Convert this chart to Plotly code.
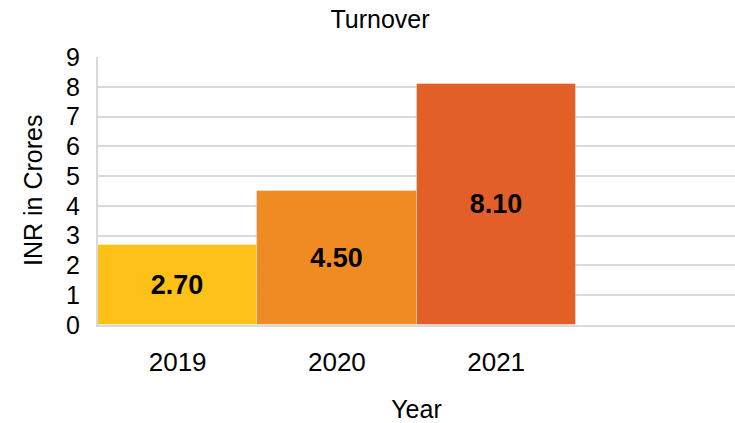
import plotly.graph_objects as go

years = ["2019", "2020", "2021"]
turnover = [2.70, 4.50, 8.10]
bar_colors = ["#FDC117", "#F08B23", "#E26027"]
y_ticks = list(range(0, 10))

font_family = "Arial, Liberation Sans, sans-serif"

fig = go.Figure()
fig.add_trace(go.Bar(
    x=list(range(len(years))),
    y=turnover,
    marker=dict(color=bar_colors, line=dict(color="rgba(255,255,255,0.35)", width=1)),
    text=[f"{v:.2f}" for v in turnover],
    textposition="inside",
    insidetextanchor="middle",
    textangle=0,
    textfont=dict(family=font_family, size=27, color="black", weight="bold"),
    showlegend=False,
    hoverinfo="skip",
))

fig.update_layout(
    width=735, height=423,
    margin=dict(l=98, r=0, t=57, b=98),
    paper_bgcolor="white", plot_bgcolor="white",
    bargap=0,
    title=dict(text="Turnover", x=380 / 735, xanchor="center", xref="container",
               y=1 - 19 / 423, yref="container", yanchor="middle",
               font=dict(family=font_family, size=25, color="#000")),
    font=dict(family=font_family, color="#000"),
    annotations=[dict(
        text="INR in Crores", textangle=-90, showarrow=False,
        xref="paper", x=0, xanchor="center", xshift=33 - 98,
        yref="paper", y=0.5, yanchor="middle",
        font=dict(family=font_family, size=25, color="#000"),
    )],
)
fig.update_xaxes(
    range=[-0.5, 3.5],
    tickvals=list(range(len(years))), ticktext=years,
    tickfont=dict(size=26, color="#000"),
    ticks="outside", ticklen=13, tickcolor="rgba(0,0,0,0)",
    showgrid=False, zeroline=False,
    showline=True, linecolor="#D9D9D9", linewidth=2,
    title=dict(text="Year", font=dict(size=25, color="#000"), standoff=26),
)
fig.update_yaxes(
    range=[0, 9], tickvals=y_ticks,
    tickfont=dict(size=25, color="#000"),
    ticks="outside", ticklen=11, tickcolor="rgba(0,0,0,0)",
    showgrid=True, gridcolor="#D9D9D9", gridwidth=2,
    zeroline=False,
    showline=True, linecolor="#D9D9D9", linewidth=2,
)

fig.write_html("out.html", config={"displayModeBar": False},
               post_script="document.body.style.margin='0';")
